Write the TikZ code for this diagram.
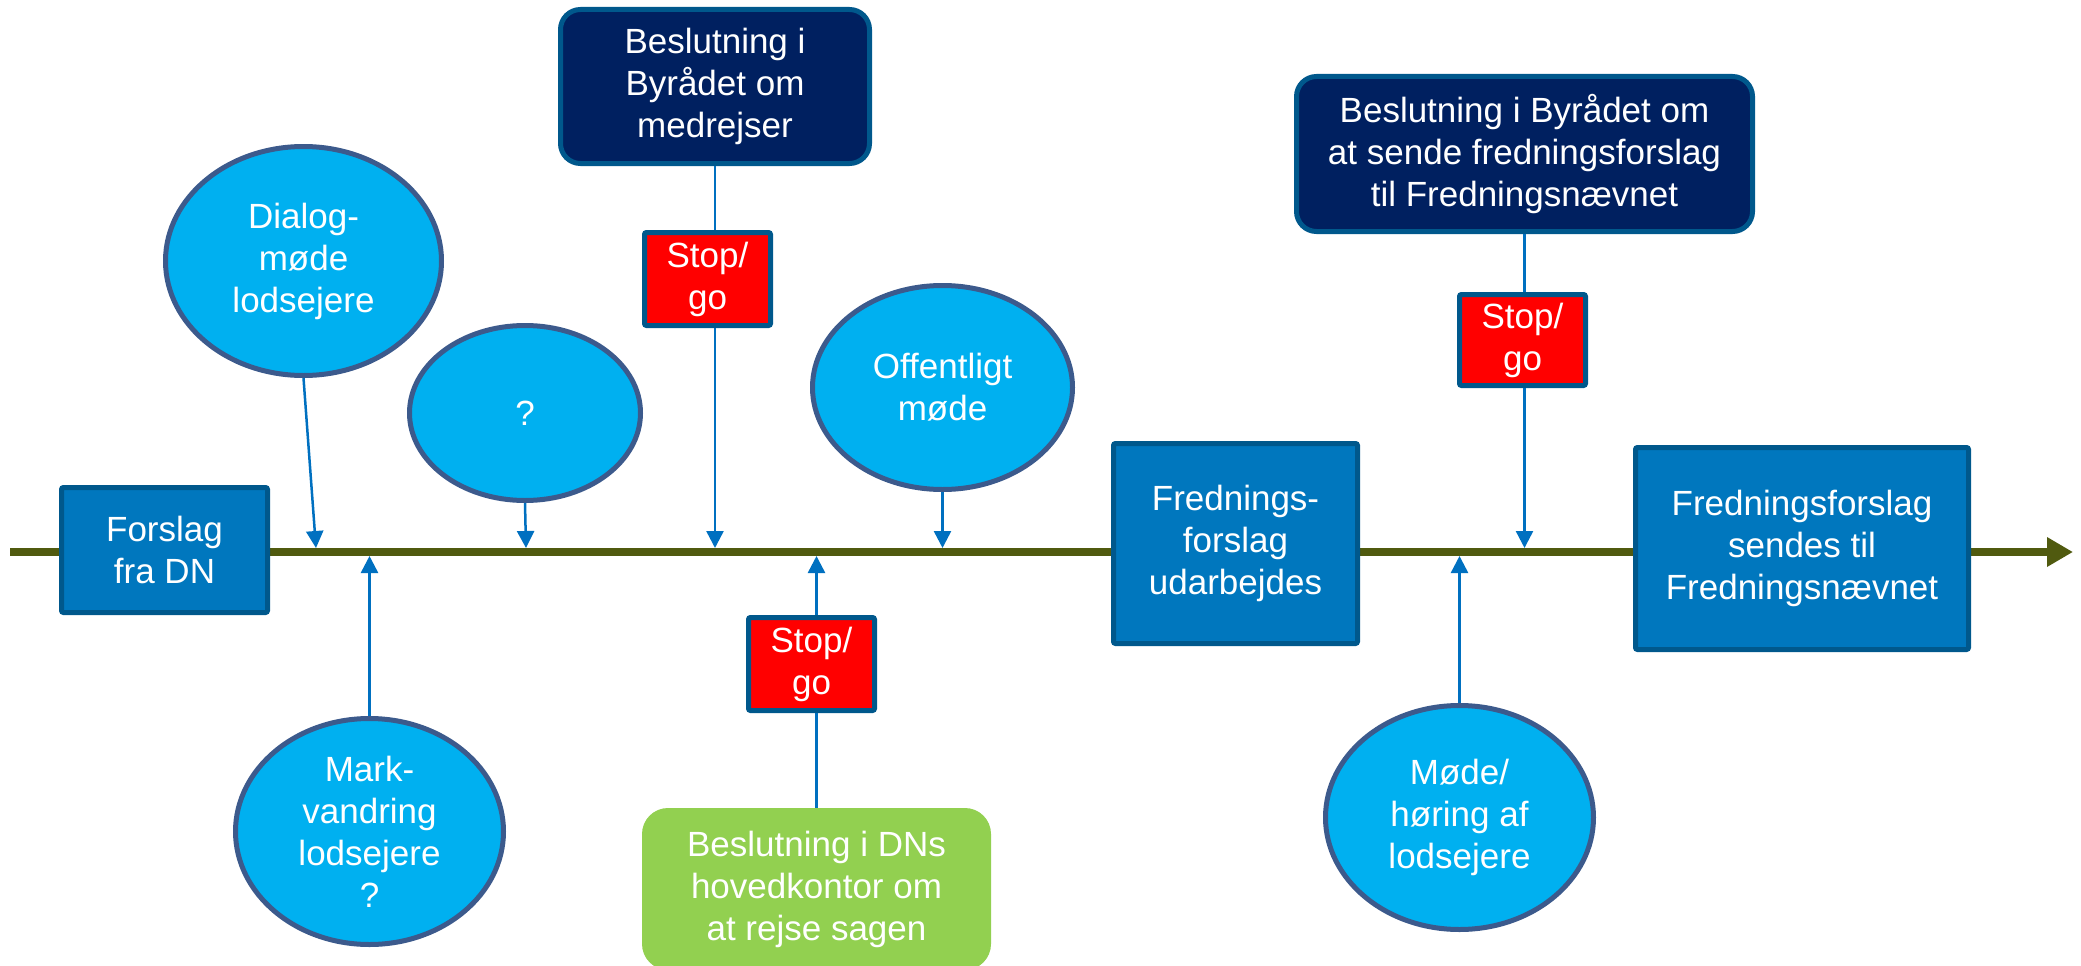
\documentclass[tikz,border=0pt]{standalone}
\usepackage{fontspec}
\setmainfont{Liberation Sans}
\usetikzlibrary{arrows.meta,shapes.geometric}
\definecolor{ellfill}{RGB}{0,176,240}
\definecolor{elledge}{RGB}{60,90,140}
\definecolor{boxfill}{RGB}{0,119,190}
\definecolor{boxedge}{RGB}{0,88,140}
\definecolor{navyfill}{RGB}{0,32,96}
\definecolor{stopred}{RGB}{255,0,0}
\definecolor{greenfill}{RGB}{146,208,80}
\definecolor{connblue}{RGB}{0,112,192}
\definecolor{olive}{RGB}{80,90,15}
\begin{document}
\begin{tikzpicture}[x=1pt,y=-1pt,
  txt/.style={text=white,font=\fontsize{35}{42}\selectfont,align=center,inner sep=0pt},
  bluebox/.style={txt,rectangle,draw=boxedge,fill=boxfill,line width=5pt,rounded corners=2pt},
  navybox/.style={txt,rectangle,draw=boxedge,fill=navyfill,line width=5pt,rounded corners=20pt},
  stopbox/.style={txt,rectangle,draw=boxedge,fill=stopred,line width=5pt,rounded corners=2pt,minimum width=126pt},
  greenbox/.style={txt,rectangle,fill=greenfill,rounded corners=26pt},
  ell/.style={txt,ellipse,draw=elledge,fill=ellfill,line width=5pt,inner sep=-25pt},
  conn/.style={draw=connblue,line width=2.5pt,-{Triangle[length=17pt,width=17pt]}},
  plainconn/.style={draw=connblue,line width=2.5pt},
  mainline/.style={draw=olive,line width=8pt,-{Triangle[length=26pt,width=28pt]}}]
\useasboundingbox (0,0) rectangle (2081,966);
\coordinate (start) at (10,552);
\coordinate (end) at (2073,552);
\draw[mainline] (start) -- (end);
% boxes
\node[bluebox,minimum width=206pt,minimum height=125pt] (forslag) at (164.5,550) {Forslag\\fra DN};
\node[bluebox,minimum width=244pt,minimum height=200pt] (udarb) at (1235.5,543.5) {Frednings-\\forslag\\udarbejdes};
\node[bluebox,minimum width=333pt,minimum height=202pt] (sendes) at (1802,548.5) {Fredningsforslag\\sendes til\\Fredningsnævnet};
\node[navybox,minimum width=309pt,minimum height=154pt] (navy1) at (715,86.5) {Beslutning i\\Byrådet om\\medrejser};
\node[navybox,minimum width=456pt,minimum height=155pt] (navy2) at (1524.5,154) {Beslutning i Byrådet om\\at sende fredningsforslag\\til Fredningsnævnet};
\node[stopbox,minimum height=93pt] (sg1) at (707.5,279) {Stop/\\go};
\node[stopbox,minimum height=93pt] (sg2) at (811.5,664) {Stop/\\go};
\node[stopbox,minimum height=91pt] (sg3) at (1522.5,340) {Stop/\\go};
\node[greenbox,minimum width=349pt,minimum height=162pt] (green) at (816.5,889) {Beslutning i DNs\\hovedkontor om\\at rejse sagen};
% ellipses
\node[ell,minimum width=276pt,minimum height=229pt] (dialog) at (303.5,261) {Dialog-\\møde\\lodsejere};
\node[ell,minimum width=231pt,minimum height=175pt] (q) at (525,413) {?};
\node[ell,minimum width=268pt,minimum height=226pt] (mark) at (369.5,831.5) {Mark-\\vandring\\lodsejere\\?};
\node[ell,minimum width=260pt,minimum height=204pt] (off) at (942.5,387.5) {Offentligt\\møde};
\node[ell,minimum width=268pt,minimum height=224pt] (mode) at (1459.5,817.5) {Møde/\\høring af\\lodsejere};
% points on the time line
\coordinate (p1) at (316,548);
\coordinate (p2) at (526,548);
\coordinate (p3) at (369.5,556);
\coordinate (p4) at (715,548);
\coordinate (p5) at (942.5,548);
\coordinate (p6) at (816.5,556);
\coordinate (p7) at (1524.5,548);
\coordinate (p8) at (1459.5,556);
% connectors
\draw[conn] (dialog.south) -- (p1);
\draw[conn] (q.south) -- (p2);
\draw[conn] (mark.north) -- (p3);
\draw[plainconn] (navy1.south) -- (navy1.south |- sg1.north);
\draw[conn] (navy1.south |- sg1.south) -- (p4);
\draw[conn] (off.south) -- (p5);
\draw[plainconn] (green.north) -- (green.north |- sg2.south);
\draw[conn] (green.north |- sg2.north) -- (p6);
\draw[plainconn] (navy2.south) -- (navy2.south |- sg3.north);
\draw[conn] (navy2.south |- sg3.south) -- (p7);
\draw[conn] (mode.north) -- (p8);
\end{tikzpicture}
\end{document}
